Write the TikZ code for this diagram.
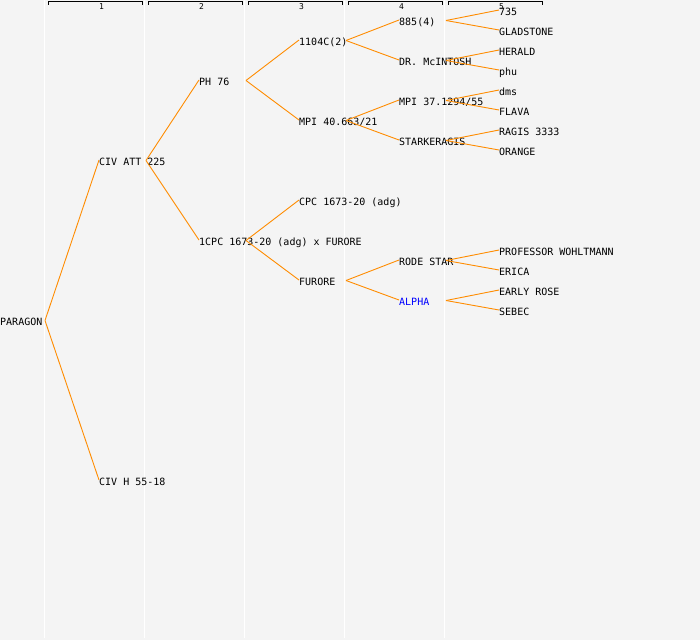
\documentclass[tikz,border=0pt]{standalone}
\usepackage{fontspec}
\newfontfamily\pix{DejaVu Sans Mono}
\definecolor{bg}{RGB}{244,244,244}
\definecolor{edgeor}{RGB}{255,140,0}
\definecolor{alphablue}{RGB}{0,0,255}
\begin{document}
\begin{tikzpicture}[x=1pt,y=-1pt,
  lbl/.style={anchor=west,inner sep=0pt,font=\pix\fontsize{10}{12}\selectfont,text height=7.3pt,text depth=0pt},
  link/.style={draw=edgeor,line width=0.9pt},
  sep/.style={draw=white,line width=1.5pt},
  brk/.style={draw=black,line width=1pt},
  colnum/.style={font=\pix\fontsize{8}{9}\selectfont,inner sep=0pt}]
\useasboundingbox[fill=bg] (0,0) rectangle (700,640);
\foreach \x in {44.5,144.5,244.5,344.5,444.5} \draw[sep] (\x,0) -- (\x,638);
\foreach \i in {1,...,5} {
  \draw[brk] (48+100*\i-100,4.5) -- ++(0,-3) -- ++(94,0) -- ++(0,3);
  \node[colnum] (num\i) at (101.5+100*\i-100,6.5) {\i};
}
% level 0
\node[lbl] (paragon) at (0,322) {PARAGON};
% level 1
\node[lbl] (civatt) at (99,162) {CIV ATT 225};
\node[lbl] (civh) at (99,482) {CIV H 55-18};
% level 2
\node[lbl] (ph) at (199,82) {PH 76};
\node[lbl] (cpcx) at (199,242) {1CPC 1673-20 (adg) x FURORE};
% level 3
\node[lbl] (c1104) at (299,42) {1104C(2)};
\node[lbl] (mpi40) at (299,122) {MPI 40.663/21};
\node[lbl] (cpc) at (299,202) {CPC 1673-20 (adg)};
\node[lbl] (furore) at (299,282) {FURORE};
% level 4
\node[lbl] (c885) at (399,22) {885(4)};
\node[lbl] (drmc) at (399,62) {DR. McINTOSH};
\node[lbl] (mpi37) at (399,102) {MPI 37.1294/55};
\node[lbl] (stark) at (399,142) {STARKERAGIS};
\node[lbl] (rode) at (399,262) {RODE STAR};
\node[lbl,text=alphablue] (alpha) at (399,302) {ALPHA};
% level 5
\node[lbl] (s735) at (499,12) {735};
\node[lbl] (glad) at (499,32) {GLADSTONE};
\node[lbl] (herald) at (499,52) {HERALD};
\node[lbl] (phu) at (499,72) {phu};
\node[lbl] (dms) at (499,92) {dms};
\node[lbl] (flava) at (499,112) {FLAVA};
\node[lbl] (ragis) at (499,132) {RAGIS 3333};
\node[lbl] (orange) at (499,152) {ORANGE};
\node[lbl] (prof) at (499,252) {PROFESSOR WOHLTMANN};
\node[lbl] (erica) at (499,272) {ERICA};
\node[lbl] (early) at (499,292) {EARLY ROSE};
\node[lbl] (sebec) at (499,312) {SEBEC};
% branch points
\coordinate (vparagon) at (45,320.5);
\coordinate (vcivatt) at (146,160.5);
\coordinate (vph) at (246,80.5);
\coordinate (vcpcx) at (246,240.5);
\coordinate (vc1104) at (346,40.5);
\coordinate (vmpi40) at (346,120.5);
\coordinate (vfurore) at (346,280.5);
\coordinate (vc885) at (446,20.5);
\coordinate (vdrmc) at (446,60.5);
\coordinate (vmpi37) at (446,100.5);
\coordinate (vstark) at (446,140.5);
\coordinate (vrode) at (446,260.5);
\coordinate (valpha) at (446,300.5);
% connectors
\foreach \p/\c in {paragon/civatt,paragon/civh,civatt/ph,civatt/cpcx,
  ph/c1104,ph/mpi40,cpcx/cpc,cpcx/furore,
  c1104/c885,c1104/drmc,mpi40/mpi37,mpi40/stark,furore/rode,furore/alpha,
  c885/s735,c885/glad,drmc/herald,drmc/phu,mpi37/dms,mpi37/flava,
  stark/ragis,stark/orange,rode/prof,rode/erica,alpha/early,alpha/sebec}
  \draw[link] (v\p) -- ([yshift=2pt]\c.west);
\end{tikzpicture}
\end{document}
